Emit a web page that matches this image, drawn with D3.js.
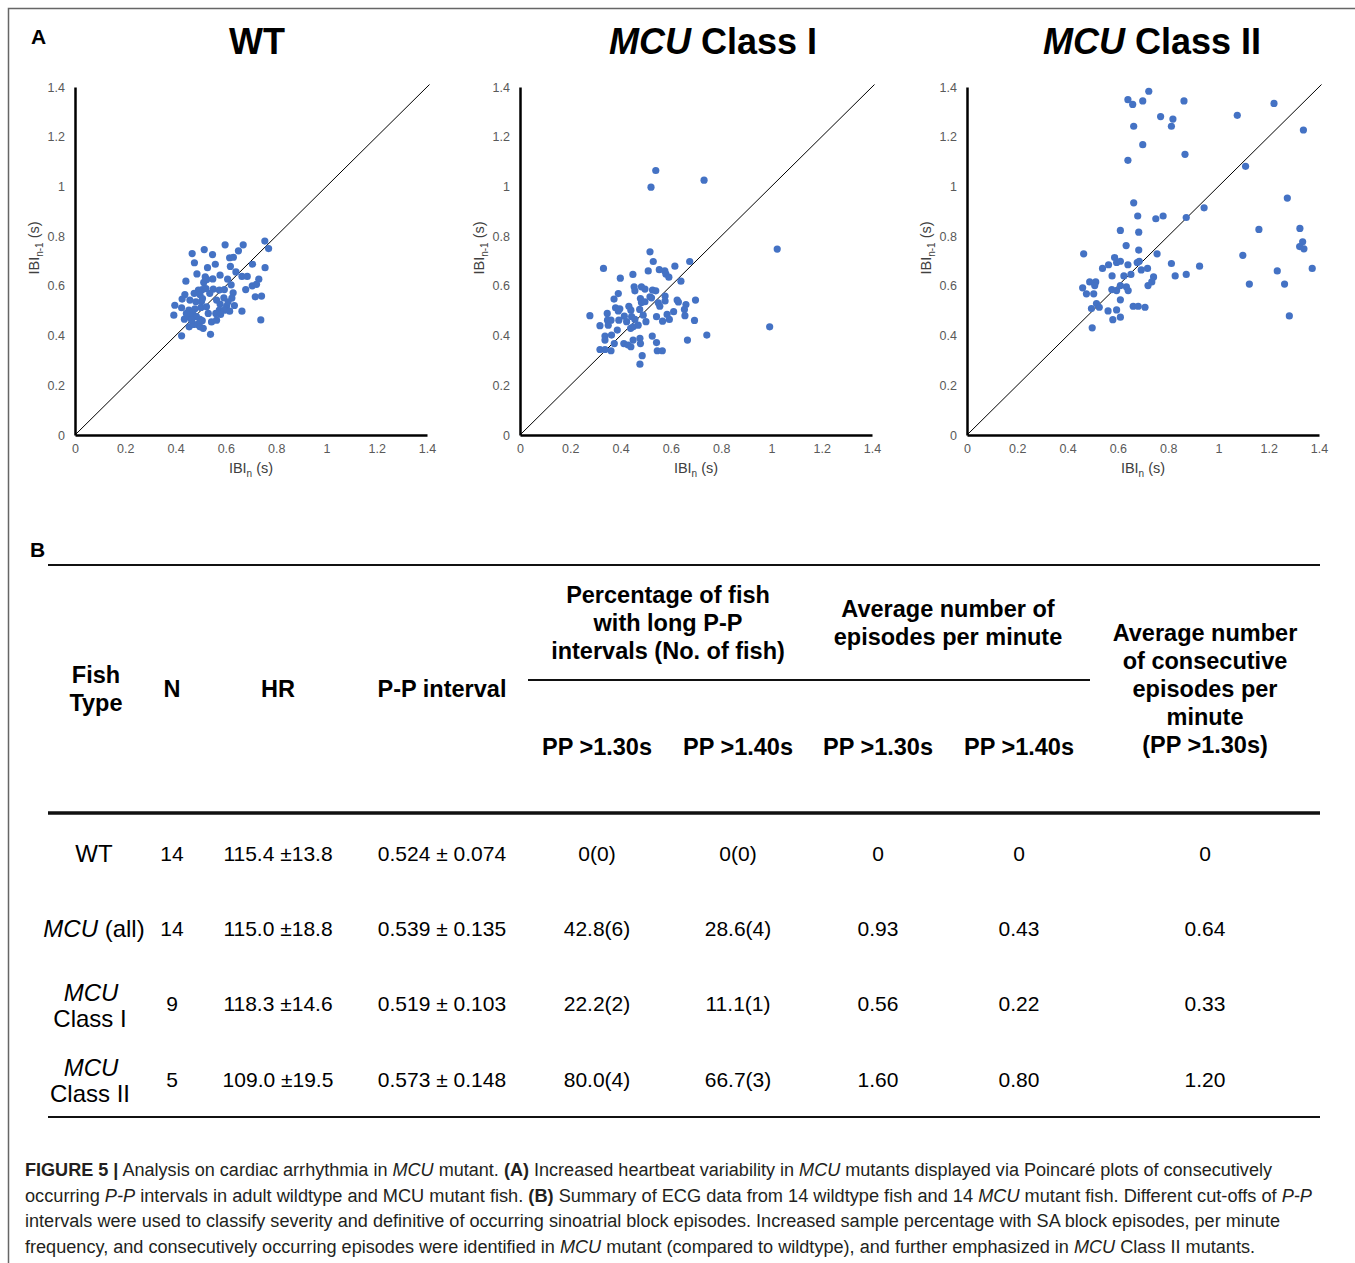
<!DOCTYPE html>
<html>
<head>
<meta charset="utf-8">
<script src="https://cdn.jsdelivr.net/npm/d3@7"></script>
<style>
  body { margin: 0; background: #fff; }
  svg { font-family: "Liberation Sans", Arial, sans-serif; }
</style>
</head>
<body>
<script>
// Poincare plot data: IBI_n (x) and IBI_n-1 (y), seconds
var wtX = [0.466,0.514,0.547,0.597,0.669,0.650,0.755,0.770,0.475,0.558,0.615,0.630,0.618,0.706,0.756,0.527,0.640,0.485,0.518,0.548,
           0.577,0.607,0.621,0.664,0.685,0.731,0.705,0.722,0.679,0.441,0.512,0.506,0.550,0.574,0.594,0.629,0.624,0.592,0.491,0.474,
           0.437,0.497,0.503,0.426,0.397,0.424,0.453,0.477,0.501,0.523,0.577,0.603,0.634,0.574,0.594,0.615,0.664,0.717,0.742,0.739,
           0.393,0.435,0.454,0.468,0.483,0.497,0.506,0.454,0.470,0.487,0.510,0.497,0.424,0.539,0.543,0.563,0.560,0.579,0.521,0.524,
           0.457,0.481,0.507,0.536,0.563,0.443,0.464,0.530,0.609];
var wtY = [0.730,0.746,0.726,0.765,0.765,0.741,0.780,0.750,0.693,0.687,0.713,0.715,0.678,0.687,0.673,0.673,0.656,0.648,0.636,0.628,
           0.643,0.627,0.604,0.638,0.638,0.627,0.600,0.606,0.585,0.619,0.614,0.585,0.587,0.583,0.585,0.572,0.551,0.552,0.583,0.570,
           0.565,0.565,0.536,0.547,0.522,0.512,0.502,0.508,0.513,0.516,0.527,0.519,0.521,0.502,0.502,0.498,0.498,0.556,0.559,0.463,
           0.482,0.466,0.476,0.489,0.476,0.465,0.460,0.435,0.445,0.445,0.429,0.435,0.399,0.405,0.455,0.462,0.489,0.485,0.589,0.626,
           0.543,0.536,0.549,0.570,0.543,0.489,0.462,0.489,0.536];

var c1X = [0.540,0.521,0.732,1.023,0.993,0.517,0.530,0.675,0.332,0.510,0.554,0.576,0.616,0.580,0.592,0.449,0.399,0.640,0.454,0.457,
           0.483,0.497,0.527,0.540,0.577,0.577,0.391,0.374,0.479,0.483,0.497,0.517,0.523,0.550,0.556,0.625,0.630,0.660,0.698,0.654,
           0.611,0.656,0.694,0.585,0.594,0.567,0.543,0.501,0.490,0.476,0.441,0.433,0.397,0.380,0.347,0.278,0.391,0.393,0.362,0.348,
           0.351,0.318,0.415,0.424,0.444,0.457,0.470,0.440,0.450,0.387,0.338,0.338,0.364,0.375,0.413,0.430,0.441,0.450,0.477,0.479,
           0.526,0.543,0.546,0.566,0.486,0.477,0.318,0.338,0.362,0.666,0.743];
var c1Y = [1.064,0.997,1.025,0.748,0.435,0.737,0.698,0.698,0.670,0.660,0.665,0.660,0.679,0.648,0.635,0.646,0.631,0.619,0.596,0.580,
           0.596,0.587,0.583,0.580,0.559,0.539,0.569,0.547,0.549,0.533,0.536,0.556,0.552,0.532,0.518,0.543,0.535,0.525,0.543,0.505,
           0.496,0.480,0.461,0.485,0.465,0.458,0.476,0.456,0.482,0.505,0.502,0.518,0.508,0.512,0.489,0.480,0.499,0.462,0.462,0.462,
           0.442,0.440,0.478,0.456,0.476,0.465,0.442,0.429,0.435,0.422,0.398,0.382,0.402,0.368,0.368,0.362,0.355,0.382,0.389,0.368,
           0.398,0.372,0.339,0.339,0.319,0.285,0.344,0.344,0.339,0.382,0.402];

var c2X = [0.723,0.640,0.659,0.699,0.863,1.221,0.770,0.819,0.813,0.663,1.075,1.338,0.699,0.867,0.640,1.108,1.274,0.663,0.943,0.679,
           0.751,0.780,0.872,1.161,1.324,1.335,1.323,1.340,0.610,0.683,0.633,0.683,0.464,0.756,1.097,0.587,0.595,0.610,0.640,0.677,
           0.685,0.563,0.539,0.693,0.718,0.652,0.624,0.577,0.742,0.735,0.720,0.813,0.828,0.872,0.925,1.234,1.373,1.263,1.123,1.282,
           0.460,0.488,0.512,0.508,0.475,0.504,0.576,0.595,0.610,0.634,0.641,0.610,0.515,0.526,0.495,0.561,0.595,0.661,0.681,0.708,
           0.580,0.610,0.498];
var c2Y = [1.383,1.349,1.330,1.344,1.344,1.334,1.281,1.271,1.242,1.242,1.286,1.227,1.168,1.129,1.105,1.081,0.953,0.934,0.914,0.881,
           0.870,0.881,0.875,0.827,0.831,0.777,0.758,0.749,0.823,0.816,0.762,0.744,0.729,0.729,0.723,0.714,0.694,0.699,0.685,0.694,
           0.699,0.685,0.670,0.664,0.670,0.646,0.640,0.640,0.636,0.616,0.601,0.690,0.640,0.646,0.679,0.660,0.670,0.607,0.607,0.479,
           0.592,0.616,0.616,0.601,0.568,0.568,0.585,0.581,0.601,0.596,0.581,0.544,0.529,0.514,0.509,0.499,0.503,0.518,0.518,0.514,
           0.464,0.474,0.431];

var axisTicks = [0, 0.2, 0.4, 0.6, 0.8, 1, 1.2, 1.4];

// Table B
var fishTypes = [["WT"], ["MCU (all)"], ["MCU", "Class I"], ["MCU", "Class II"]];
var nFish = ["14", "14", "9", "5"];
var hrVals = ["115.4 \u00b113.8", "115.0 \u00b118.8", "118.3 \u00b114.6", "109.0 \u00b119.5"];
var ppVals = ["0.524 \u00b1 0.074", "0.539 \u00b1 0.135", "0.519 \u00b1 0.103", "0.573 \u00b1 0.148"];
var pct130 = ["0(0)", "42.8(6)", "22.2(2)", "80.0(4)"];
var pct140 = ["0(0)", "28.6(4)", "11.1(1)", "66.7(3)"];
var epi130 = ["0", "0.93", "0.56", "1.60"];
var epi140 = ["0", "0.43", "0.22", "0.80"];
var consec130 = ["0", "0.64", "0.33", "1.20"];

var svg = d3.select("body").append("svg")
    .attr("width", 1355)
    .attr("height", 1263);

// Figure frame (top and left edges)
svg.append("path")
    .attr("d", "M8.5,1263V8.5H1355")
    .attr("fill", "none")
    .attr("stroke", "#666")
    .attr("stroke-width", 1.5);

// Panel letters
svg.append("text").attr("x", 31).attr("y", 44)
    .style("font-size", "21px").style("font-weight", "bold").text("A");
svg.append("text").attr("x", 30).attr("y", 557)
    .style("font-size", "21px").style("font-weight", "bold").text("B");

// ---- Panel A: three Poincare plots ----
var panels = [
  {italic: "", rest: "WT", xs: wtX, ys: wtY, left: 75, titleX: 257},
  {italic: "MCU", rest: " Class I", xs: c1X, ys: c1Y, left: 520, titleX: 713},
  {italic: "MCU", rest: " Class II", xs: c2X, ys: c2Y, left: 967, titleX: 1152}
];
var plotW = 352, plotTop = 87, plotBottom = 435;

panels.forEach(function(p) {
  var x = d3.scaleLinear().domain([0, 1.4]).range([0, plotW]),
      y = d3.scaleLinear().domain([0, 1.4]).range([plotBottom - plotTop, 0]);
  var h = plotBottom - plotTop;

  var g = svg.append("g")
      .attr("transform", "translate(" + p.left + "," + plotTop + ")");

  // Title
  var t = svg.append("text")
      .attr("x", p.titleX)
      .attr("y", 54)
      .attr("text-anchor", "middle")
      .style("font-size", "36px")
      .style("font-weight", "bold");
  if (p.italic) t.append("tspan").style("font-style", "italic").text(p.italic);
  t.append("tspan").text(p.rest);

  // Axes
  var xAxis = d3.axisBottom(x).tickValues(axisTicks).tickSize(0).tickPadding(9)
      .tickFormat(d3.format("~g"));
  var yAxis = d3.axisLeft(y).tickValues(axisTicks).tickSize(0).tickPadding(10)
      .tickFormat(d3.format("~g"));

  var gx = g.append("g")
      .attr("transform", "translate(0," + h + ")")
      .call(xAxis);
  var gy = g.append("g").call(yAxis);

  [gx, gy].forEach(function(a) {
    a.select(".domain").attr("stroke", "#000").attr("stroke-width", 2.5);
    a.selectAll("text")
        .style("font-size", "12.5px")
        .style("font-family", "'Liberation Sans', Arial, sans-serif")
        .attr("fill", "#595959");
  });

  // Identity line
  g.append("line")
      .attr("x1", x(0)).attr("y1", y(0))
      .attr("x2", x(1.41)).attr("y2", y(1.41))
      .attr("stroke", "#000")
      .attr("stroke-width", 1);

  // Points
  var pts = p.xs.map(function(v, i) { return [v, p.ys[i]]; });
  g.selectAll("circle")
      .data(pts)
    .enter().append("circle")
      .attr("cx", function(d) { return x(d[0]); })
      .attr("cy", function(d) { return y(d[1]); })
      .attr("r", 3.6)
      .attr("fill", "#4472C4");

  // X label
  var xl = g.append("text")
      .attr("x", plotW / 2)
      .attr("y", h + 38)
      .attr("text-anchor", "middle")
      .attr("fill", "#404040")
      .style("font-size", "14.5px");
  xl.append("tspan").text("IBI");
  xl.append("tspan").attr("dy", 4).style("font-size", "10px").text("n");
  xl.append("tspan").attr("dy", -4).text(" (s)");

  // Y label
  var yl = g.append("text")
      .attr("transform", "translate(-36," + (h / 2 - 13) + ") rotate(-90)")
      .attr("text-anchor", "middle")
      .attr("fill", "#404040")
      .style("font-size", "14.5px");
  yl.append("tspan").text("IBI");
  yl.append("tspan").attr("dy", 4).style("font-size", "10px").text("n-1");
  yl.append("tspan").attr("dy", -4).text(" (s)");
});

// ---- Panel B: summary table ----
var tblLeft = 48, tblRight = 1320;
var colX = [96, 172, 278, 442, 597, 738, 878, 1019, 1205];

function rule(y0, x0, x1, w) {
  svg.append("line")
      .attr("x1", x0).attr("x2", x1)
      .attr("y1", y0).attr("y2", y0)
      .attr("stroke", "#111")
      .attr("stroke-width", w);
}
rule(565, tblLeft, tblRight, 2);
rule(680, 528, 1090, 2);
rule(813, tblLeft, tblRight, 3.5);
rule(1117, tblLeft, tblRight, 2);

// Header cells: [x, first line centre, lines]
var headers = [
  [colX[0], 675, ["Fish", "Type"]],
  [colX[1], 689, ["N"]],
  [colX[2], 689, ["HR"]],
  [colX[3], 689, ["P-P interval"]],
  [668, 595, ["Percentage of fish", "with long P-P", "intervals (No. of fish)"]],
  [948, 609, ["Average number of", "episodes per minute"]],
  [colX[8], 633, ["Average number", "of consecutive", "episodes per", "minute", "(PP >1.30s)"]],
  [colX[4], 747, ["PP >1.30s"]],
  [colX[5], 747, ["PP >1.40s"]],
  [colX[6], 747, ["PP >1.30s"]],
  [colX[7], 747, ["PP >1.40s"]]
];

headers.forEach(function(hd) {
  var t = svg.append("text")
      .attr("text-anchor", "middle")
      .style("font-size", "23.5px")
      .style("font-weight", "bold");
  hd[2].forEach(function(line, i) {
    t.append("tspan")
        .attr("x", hd[0])
        .attr("y", hd[1] + i * 28 + 8)
        .text(line);
  });
});

// Body rows
var rowY = d3.scaleLinear().domain([0, 3]).range([853, 1079]);
var bodyCols = [nFish, hrVals, ppVals, pct130, pct140, epi130, epi140, consec130];

bodyCols.forEach(function(col, ci) {
  svg.append("g").selectAll("text")
      .data(col)
    .enter().append("text")
      .attr("x", colX[ci + 1])
      .attr("y", function(d, i) { return rowY(i) + 7.5; })
      .attr("text-anchor", "middle")
      .style("font-size", "21px")
      .text(function(d) { return d; });
});

fishTypes.forEach(function(lines, i) {
  var t = svg.append("text")
      .attr("text-anchor", "middle")
      .style("font-size", "24px");
  if (lines.length === 1) {
    var parts = lines[0].split(" ");
    var tx = t.attr("x", colX[0] - 2).attr("y", rowY(i) + 8.5);
    if (parts[0] === "MCU") {
      tx.append("tspan").style("font-style", "italic").text("MCU");
      tx.append("tspan").text(" " + parts.slice(1).join(" "));
    } else {
      tx.text(lines[0]);
    }
  } else {
    t.append("tspan").attr("x", colX[0] - 5).attr("y", rowY(i) - 3)
        .style("font-style", "italic").text(lines[0]);
    t.append("tspan").attr("x", colX[0] - 6).attr("y", rowY(i) + 23).text(lines[1]);
  }
});

// ---- Caption ----
var caption = [
  [["b", "FIGURE 5 |"], ["", " Analysis on cardiac arrhythmia in "], ["i", "MCU"], ["", " mutant. "], ["b", "(A)"],
   ["", " Increased heartbeat variability in "], ["i", "MCU"], ["", " mutants displayed via Poincar\u00e9 plots of consecutively"]],
  [["", "occurring "], ["i", "P-P"], ["", " intervals in adult wildtype and MCU mutant fish. "], ["b", "(B)"],
   ["", " Summary of ECG data from 14 wildtype fish and 14 "], ["i", "MCU"], ["", " mutant fish. Different cut-offs of "], ["i", "P-P"]],
  [["", "intervals were used to classify severity and definitive of occurring sinoatrial block episodes. Increased sample percentage with SA block episodes, per minute"]],
  [["", "frequency, and consecutively occurring episodes were identified in "], ["i", "MCU"],
   ["", " mutant (compared to wildtype), and further emphasized in "], ["i", "MCU"], ["", " Class II mutants."]]
];
var captionWidths = [1247, 1287, 1255, 1230];

caption.forEach(function(line, li) {
  var t = svg.append("text")
      .attr("x", 25)
      .attr("y", 1176 + li * 25.5)
      .attr("fill", "#231f20")
      .attr("textLength", captionWidths[li])
      .attr("lengthAdjust", "spacingAndGlyphs")
      .style("font-size", "18px");
  line.forEach(function(seg) {
    var s = t.append("tspan").text(seg[1]);
    if (seg[0] === "b") s.style("font-weight", "bold");
    if (seg[0] === "i") s.style("font-style", "italic");
  });
});
</script>
</body>
</html>
